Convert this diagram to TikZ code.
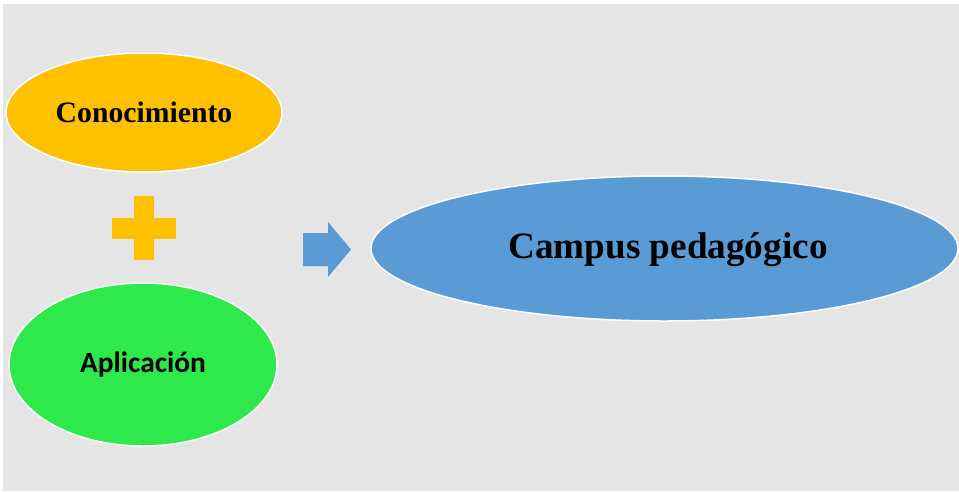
\documentclass[tikz,border=0pt]{standalone}
\usepackage{fontspec}
\setmainfont{Liberation Serif}
\newfontfamily\calibrifont{Carlito}
\usetikzlibrary{shapes.geometric}
\definecolor{bggray}{RGB}{229,229,229}
\definecolor{goldy}{RGB}{255,192,0}
\definecolor{greeny}{RGB}{46,232,76}
\definecolor{bluey}{RGB}{91,155,213}
\tikzset{
  oval/.style={ellipse, draw=white, line width=1.5pt, inner sep=0pt},
}
\begin{document}
\begin{tikzpicture}[x=1pt,y=-1pt]
\useasboundingbox (0,0) rectangle (959,491);
\fill[bggray] (3,4) rectangle (959,491);
\begin{scope}
\clip (3,4) rectangle (959,491);
\node[oval, fill=goldy, minimum width=276pt, minimum height=119pt] (con) at (144,112.5) {};
\node[font=\bfseries\fontsize{29.7}{29.7}\selectfont] at (144,112) {Conocimiento};
\node[oval, fill=greeny, minimum width=268pt, minimum height=163pt] (apl) at (143,364.5) {};
\node[font=\calibrifont\bfseries\fontsize{29.4}{29.4}\selectfont] at (143,364) {Aplicación};
\node[oval, fill=bluey, minimum width=587pt, minimum height=145pt] (cam) at (664.5,248.5) {};
\node[font=\bfseries\fontsize{37.2}{37.2}\selectfont] at (668,250) {Campus pedagógico};
\end{scope}
% plus sign
\fill[goldy] (134,196) rectangle (154,260);
\fill[goldy] (112,218) rectangle (176,239);
% block arrow
\fill[bluey] (303,233) -- (328,233) -- (328,222) -- (351,249.5) -- (328,277) -- (328,266) -- (303,266) -- cycle;
\end{tikzpicture}
\end{document}
